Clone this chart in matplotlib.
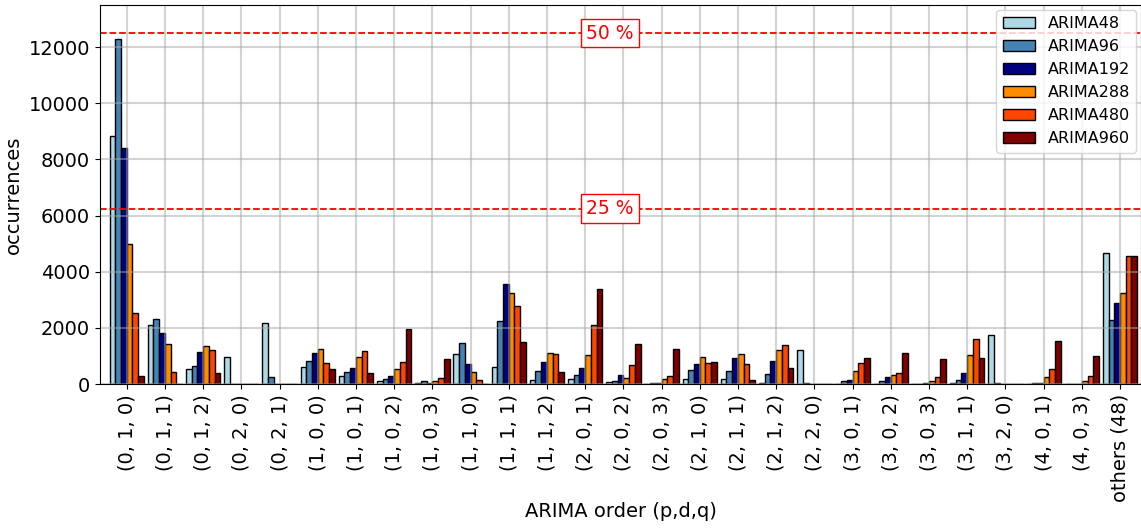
import numpy as np
from matplotlib import pyplot as plt

orders = ['(0, 1, 0)', '(0, 1, 1)', '(0, 1, 2)', '(0, 2, 0)', '(0, 2, 1)',
          '(1, 0, 0)', '(1, 0, 1)', '(1, 0, 2)', '(1, 0, 3)', '(1, 1, 0)',
          '(1, 1, 1)', '(1, 1, 2)', '(2, 0, 1)', '(2, 0, 2)', '(2, 0, 3)',
          '(2, 1, 0)', '(2, 1, 1)', '(2, 1, 2)', '(2, 2, 0)', '(3, 0, 1)',
          '(3, 0, 2)', '(3, 0, 3)', '(3, 1, 1)', '(3, 2, 0)', '(4, 0, 1)',
          '(4, 0, 3)', 'others (48)']

arima48 = [8850, 2090, 520, 950, 2160, 590, 270, 110, 20, 1060, 590, 140, 190,
           60, 15, 180, 165, 20, 1200, 15, 15, 5, 30, 1735, 5, 5, 4665]
arima96 = [12300, 2300, 660, 0, 261, 810, 420, 170, 95, 1470, 2230, 460, 320,
           120, 40, 490, 450, 345, 40, 95, 95, 15, 130, 30, 30, 10, 2290]
arima192 = [8400, 1830, 1150, 0, 0, 1090, 560, 285, 45, 700, 3575, 770, 580,
            310, 35, 725, 925, 820, 0, 155, 250, 30, 380, 0, 20, 10, 2895]
arima288 = [5000, 1410, 1350, 0, 0, 1250, 965, 520, 120, 415, 3230, 1090, 1045,
            215, 165, 950, 1055, 1200, 0, 475, 330, 105, 1020, 0, 240, 95, 3240]
arima480 = [2520, 440, 1200, 0, 0, 740, 1175, 770, 215, 155, 2780, 1070, 2090,
            665, 285, 750, 710, 1390, 0, 750, 405, 235, 1600, 0, 545, 285, 4545]
arima960 = [280, 0, 390, 0, 0, 520, 380, 1970, 880, 0, 1495, 415, 3400,
            1410, 1235, 770, 130, 580, 0, 915, 1090, 890, 925, 0, 1520, 1010, 4570]

series = {'ARIMA48': arima48, 'ARIMA96': arima96, 'ARIMA192': arima192,
          'ARIMA288': arima288, 'ARIMA480': arima480, 'ARIMA960': arima960}
colors = ['lightblue', 'steelblue', 'navy', 'darkorange', 'orangered', 'maroon']
total = 25000

fig, ax = plt.subplots(figsize=(11.41, 5.29), dpi=100)
fig.subplots_adjust(left=0.0876, right=1.0, top=0.9905, bottom=0.274)

x = np.arange(len(orders))
width = 0.15
for i, (name, vals) in enumerate(series.items()):
    ax.bar(x + (i - 2.5) * width, vals, width=width, color=colors[i],
           edgecolor='black', linewidth=1, label=name)

# half and quarter of all runs
for frac, lab in [(0.5, '50 %'), (0.25, '25 %')]:
    ax.axhline(total * frac, color='red', linestyle='--', linewidth=1.3)
    ax.text(12.65, total * frac, lab, color='red', fontsize=13.5,
            ha='center', va='center',
            bbox=dict(facecolor='white', edgecolor='red', pad=3.5))

ax.grid(True, color='#a8a8a8', alpha=0.5, linewidth=1.5)
ax.set_xticks(x)
ax.set_xticklabels(orders, rotation=90)
ax.set_xlim(-0.7, 26.55)
ax.set_ylim(0, 13500)
ax.set_xlabel('ARIMA order (p,d,q)', fontsize=14, labelpad=0)
ax.set_ylabel('occurrences', fontsize=14)
ax.tick_params(labelsize=14)
ax.legend(loc='upper right', fontsize=11.5, borderaxespad=0.3)

fig.savefig('out.png')
